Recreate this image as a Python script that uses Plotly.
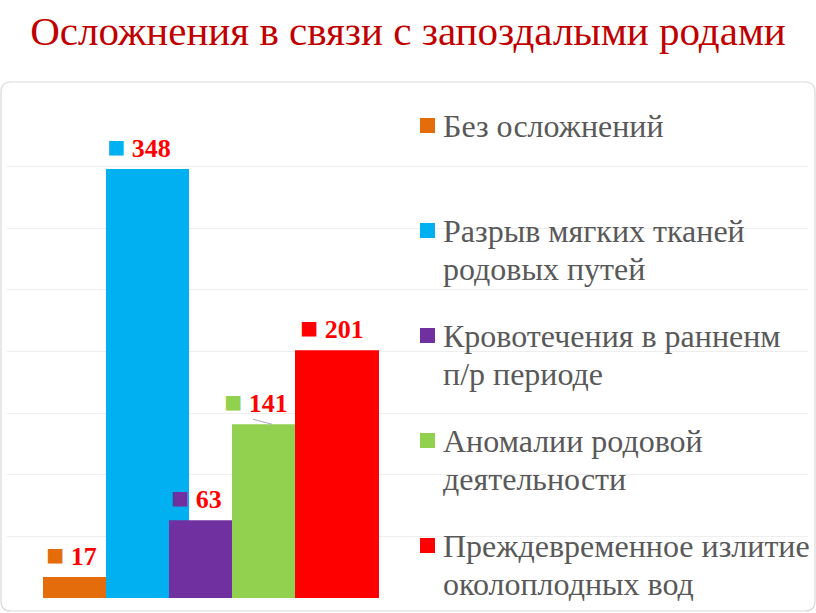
import plotly.graph_objects as go

# ---- data ----
categories = [
    "Без осложнений",
    "Разрыв мягких тканей<br>родовых путей",
    "Кровотечения в ранненм<br>п/р периоде",
    "Аномалии родовой<br>деятельности",
    "Преждевременное излитие<br>околоплодных вод",
]
values = [17, 348, 63, 141, 201]
title_text = "Осложнения в связи с запоздалыми родами"

# ---- styles ----
colors = ["#E46C0A", "#00B0F0", "#7030A0", "#92D050", "#FF0000"]
bar_left_px = [36, 99, 162, 225, 288]     # offset of each bar inside the plot area (px)
bar_width_px = [63, 83, 63, 63, 84]
label_dx = [-3, -9, -4, -8, -5]
SERIF = "Liberation Serif"

W, H = 816, 613
ML, MR, MT, MB = 7, 8, 105, 15
PW = W - ML - MR
PH = H - MT - MB

def px2paper(px, py):
    return (px - ML) / PW, (MT + PH - py) / PH

fig = go.Figure()
for i, (cat, val, col) in enumerate(zip(categories, values, colors)):
    fig.add_trace(go.Bar(
        x=[0], y=[val], name=cat.replace("<br>", " "),
        offset=bar_left_px[i], width=bar_width_px[i],
        marker=dict(color=col, line=dict(width=0)),
        hoverinfo="skip", showlegend=False,
    ))
    fig.add_annotation(
        x=bar_left_px[i] + bar_width_px[i] / 2, y=val, xref="x", yref="y",
        text=f"<span style='color:{col};font-size:30px'>■</span> <b>{val}</b>",
        showarrow=False, yanchor="bottom", xanchor="center",
        xshift=label_dx[i], yshift=4,
        font=dict(family=SERIF, size=26, color="#FF0000"),
    )

# small leader line of the "141" label (as in the reference)
gi = 3
fig.add_shape(type="line", xref="x", yref="y",
              x0=bar_left_px[gi] + 21, x1=bar_left_px[gi] + 40,
              y0=values[gi] + 4, y1=values[gi],
              line=dict(color="#A9A9C9", width=1))

# ---- legend drawn as keys + text lines ----
LEG_FS = 32
LEG_BASE0, LEG_STEP, LEG_LINE = 137, 105, 38
KEY_X0, KEY_SIZE, TEXT_X = 420, 15, 441
for i, (cat, col) in enumerate(zip(categories, colors)):
    base = LEG_BASE0 + i * LEG_STEP
    ka, kb = px2paper(KEY_X0, base - 19)
    kc, kd = px2paper(KEY_X0 + KEY_SIZE, base - 19 + KEY_SIZE)
    fig.add_shape(type="rect", xref="paper", yref="paper", x0=ka, x1=kc, y0=kd, y1=kb,
                  fillcolor=col, line=dict(width=0))
    for j, line in enumerate(cat.split("<br>")):
        bl = base + j * LEG_LINE
        tx, ty = px2paper(TEXT_X, bl - 0.3375 * LEG_FS)
        fig.add_annotation(x=tx, y=ty, xref="paper", yref="paper", text=line,
                           showarrow=False, xanchor="left", yanchor="middle",
                           font=dict(family=SERIF, size=LEG_FS, color="#595959"))

# rounded frame
x0, y0, x1, y1, r = 1, 82, 815, 611, 10
def P(px, py):
    a, b = px2paper(px, py)
    return f"{a:.5f},{b:.5f}"
path = (f"M{P(x0 + r, y0)} L{P(x1 - r, y0)} Q{P(x1, y0)} {P(x1, y0 + r)} "
        f"L{P(x1, y1 - r)} Q{P(x1, y1)} {P(x1 - r, y1)} "
        f"L{P(x0 + r, y1)} Q{P(x0, y1)} {P(x0, y1 - r)} "
        f"L{P(x0, y0 + r)} Q{P(x0, y0)} {P(x0 + r, y0)} Z")
fig.add_shape(type="path", path=path, xref="paper", yref="paper",
              line=dict(color="#D9D9D9", width=1.2), layer="below")

fig.update_layout(
    width=W, height=H,
    margin=dict(l=ML, r=MR, t=MT, b=MB),
    paper_bgcolor="white", plot_bgcolor="white",
    barmode="overlay",
    title=dict(text=title_text, x=0.5, xanchor="center", y=1 - 31 / H, yanchor="middle",
               font=dict(family=SERIF, size=41, color="#C00000")),
    xaxis=dict(range=[0, PW], visible=False, fixedrange=True),
    yaxis=dict(range=[0, 400], dtick=50, showgrid=True, gridcolor="#EEEEEE", gridwidth=1,
               zeroline=False, showticklabels=False, ticks="", showline=False),
    showlegend=False,
)
fig.write_html("out.html")
